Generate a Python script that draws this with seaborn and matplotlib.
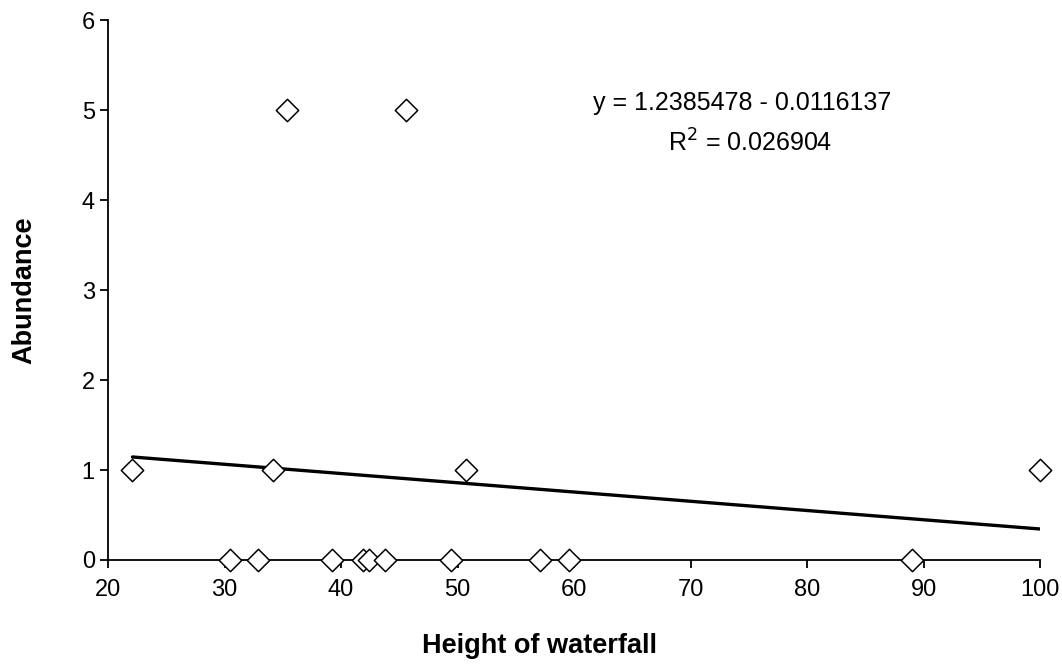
import matplotlib
matplotlib.use("Agg")
import matplotlib.pyplot as plt
import seaborn as sns
import pandas as pd

# waterfall height vs abundance
height = [22.1, 34.2, 50.7, 100.0,
          30.5, 32.9, 39.2, 41.9, 42.4, 43.8, 49.4, 57.1, 59.6, 89.0,
          35.4, 45.6]
abundance = [1, 1, 1, 1,
             0, 0, 0, 0, 0, 0, 0, 0, 0, 0,
             5, 5]
eq_text = "y = 1.2385478 - 0.0116137"
r2_text = "R$^2$ = 0.026904"

df = pd.DataFrame({"height": height, "abundance": abundance})

sns.set_theme(style="white")
plt.rcParams['font.family'] = ['Liberation Sans', 'DejaVu Sans']

fig, ax = plt.subplots(figsize=(10.62, 6.72), dpi=100)
fig.subplots_adjust(left=0.1017, right=0.9793, bottom=0.1667, top=0.970)

sns.regplot(data=df, x="height", y="abundance", ax=ax, scatter=False, ci=None,
            truncate=True, line_kws={"color": "black", "lw": 2.4})
sns.scatterplot(data=df, x="height", y="abundance", ax=ax, marker="D", s=130,
                facecolor="white", edgecolor="black", linewidth=1.1, zorder=3,
                clip_on=False)

ax.set_xlim(20, 100)
ax.set_ylim(0, 6)
ax.set_xticks(range(20, 101, 10))
ax.set_yticks(range(0, 7))
sns.despine(ax=ax)
for s in ["left", "bottom"]:
    ax.spines[s].set_color("black")
    ax.spines[s].set_linewidth(1.3)
ax.tick_params(axis="both", direction="out", length=6, width=1.3, color="black",
               labelsize=17, labelcolor="black", bottom=True, left=True)
ax.tick_params(axis="x", pad=8)

ax.set_xlabel("Height of waterfall", fontsize=19.5, fontweight="bold", color="black")
ax.set_ylabel("Abundance", fontsize=19.5, fontweight="bold", color="black")
ax.xaxis.set_label_coords(0.4635, -0.135)
ax.yaxis.set_label_coords(-0.076, 0.5)

ax.text(0.680, 0.846, eq_text, transform=ax.transAxes, ha="center", va="center",
        fontsize=18, color="black")
ax.text(0.689, 0.772, r2_text, transform=ax.transAxes, ha="center", va="center",
        fontsize=18, color="black")

fig.savefig("out.png", dpi=100)
